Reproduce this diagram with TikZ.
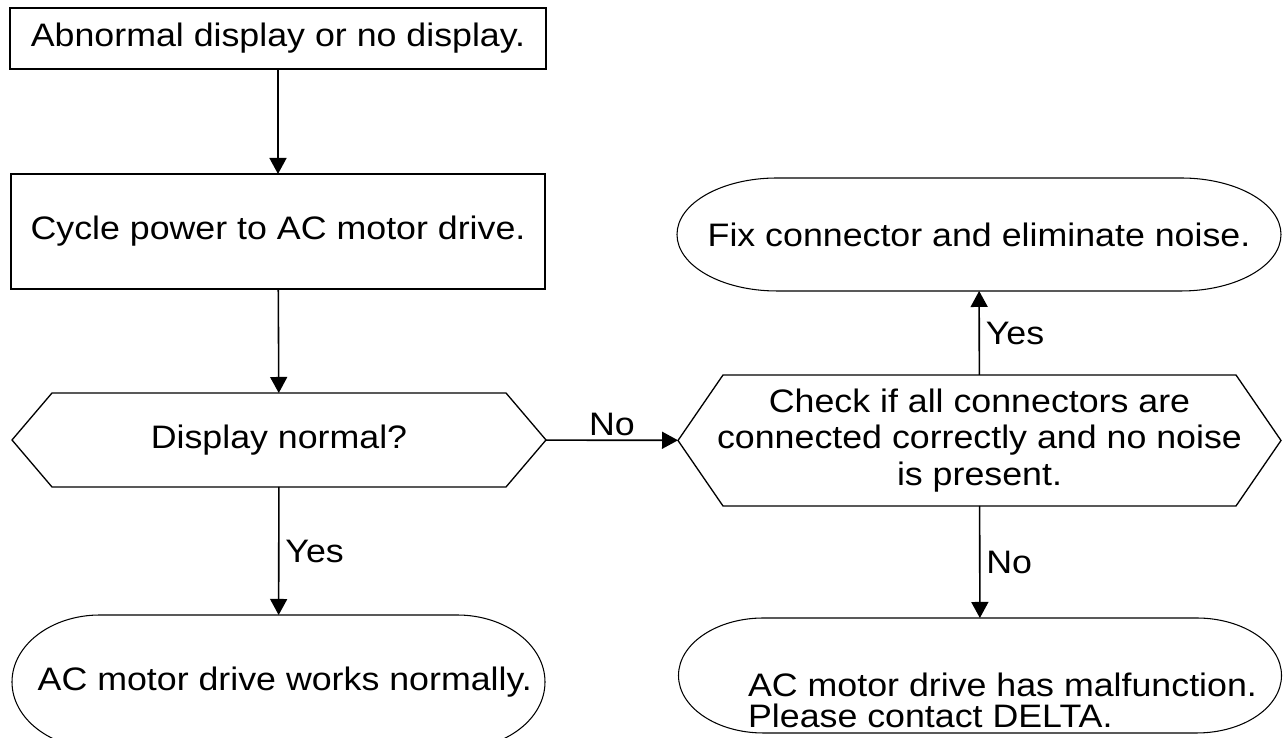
\documentclass[tikz,border=0pt]{standalone}
\usepackage{fontspec}
\setmainfont[FakeStretch=1.1]{Liberation Sans}
\usetikzlibrary{arrows.meta}

\begin{document}
\begin{tikzpicture}[
    every node/.style={font=\fontsize{18.5}{20.8}\selectfont},
    box/.style={draw, line width=0.9pt, inner sep=0pt, outer sep=0pt},
    frame/.style={inner sep=0pt, outer sep=0pt},
    flow/.style={line width=0.9pt, -{Triangle[length=0.32cm,width=0.34cm]}},
    hexline/.style={line width=0.75pt, line join=miter},
    termline/.style={line width=0.6pt}
  ]
    \clip (0,0) rectangle (25.68,14.76);
    % left column
    \node[box, minimum width=10.72cm, minimum height=1.22cm] (start) at (5.56,13.99) {Abnormal display or no display.};
    \node[box, minimum width=10.68cm, minimum height=2.30cm] (cycle) at (5.56,10.13) {Cycle power to AC motor drive.};
    \node[frame, minimum width=10.68cm, minimum height=1.88cm] (disp) at (5.58,5.96) {Display normal?};
    \node[frame, minimum width=10.66cm, minimum height=2.68cm] (works) at (5.57,1.12) {\hspace*{0.25cm}AC motor drive works normally.};
    % right column
    \node[frame, minimum width=12.08cm, minimum height=2.26cm] (fix) at (19.58,10.07) {Fix connector and eliminate noise.};
    \node[frame, minimum width=12.06cm, minimum height=2.62cm, align=center] (check) at (19.59,5.95)
      {Check if all connectors are\\connected correctly and no noise\\is present.};
    \node[frame, minimum width=12.06cm, minimum height=2.30cm] (fault) at (19.6,1.25) {};
    \node[align=left, font=\fontsize{18.5}{17.6}\selectfont] (faulttxt) at (20.05,0.76)
      {AC motor drive has malfunction.\\Please contact DELTA.};
    % outlines
    \foreach \n/\s in {disp/0.8, check/0.9}
      \draw[hexline] ([xshift=\s cm]\n.north west) -- ([xshift=-\s cm]\n.north east) -- (\n.east)
        -- ([xshift=-\s cm]\n.south east) -- ([xshift=\s cm]\n.south west) -- (\n.west) -- cycle;
    \foreach \n/\rx/\ry in {fix/2.0/1.13, works/1.76/1.34, fault/1.7/1.15}
      \draw[termline] ([xshift=\rx cm]\n.north west) -- ([xshift=-\rx cm]\n.north east)
        arc[start angle=90, end angle=-90, x radius=\rx cm, y radius=\ry cm]
        -- ([xshift=\rx cm]\n.south west)
        arc[start angle=270, end angle=90, x radius=\rx cm, y radius=\ry cm] -- cycle;
    % connectors
    \draw[flow] (start) -- (cycle);
    \draw[flow] (cycle) -- (disp);
    \draw[flow] (disp) -- node[right] (yes1) {Yes} (works);
    \draw[flow] (disp) -- node[above, inner sep=2pt] (no1) {No} (check);
    \draw[flow] (check) -- node[right] (yes2) {Yes} (fix);
    \draw[flow] (check) -- node[right] (no2) {No} (fault);
\end{tikzpicture}
\end{document}
